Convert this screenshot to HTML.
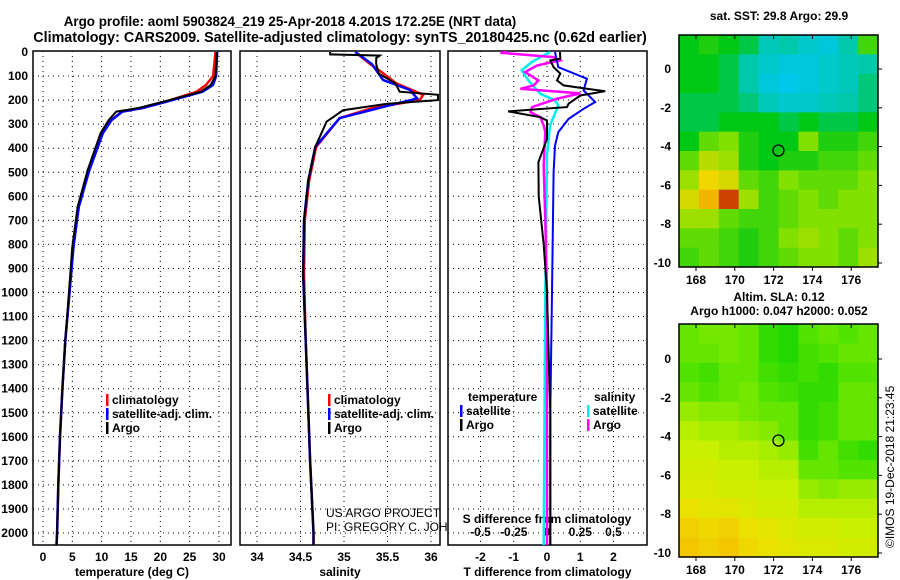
<!DOCTYPE html>
<html><head><meta charset="utf-8"><style>
body{margin:0;background:#fff}
svg{display:block;font-family:"Liberation Sans",sans-serif;font-weight:bold}
</style></head><body>
<svg id="c" width="900" height="580" xmlns="http://www.w3.org/2000/svg">
<text x="290" y="26" font-size="13.4" text-anchor="middle">Argo profile: aoml 5903824_219 25-Apr-2018 4.201S 172.25E (NRT data)</text>
<text x="340" y="42" font-size="14.3" text-anchor="middle">Climatology: CARS2009. Satellite-adjusted climatology: synTS_20180425.nc (0.62d earlier)</text>
<g id="g"></g>
</svg>
<script>
// ---- data ----
const depthT=[0,100,137,165,207,233,248,283,338,492,644,811,1005,1200,1400,1600,1800,2000,2050];
const tempArgo=[29.6,29.4,28.6,26.9,20.4,16.3,12.5,11.2,9.8,7.6,5.9,5.0,4.4,3.8,3.3,2.9,2.6,2.4,2.3];
const tempClim=[29.4,29.0,27.8,26.2,20.8,17.0,13.5,11.6,10.0,7.8,6.0,5.1,4.5,3.8,3.3,2.9,2.6,2.4,2.3];
const tempSat=[29.7,29.5,29.0,27.2,21.0,17.0,13.5,11.7,10.2,7.9,6.1,5.2,4.5,3.8,3.3,2.9,2.6,2.4,2.3];
const depthSA=[0,10,15,25,50,90,130,165,178,200,215,242,290,394,533,700,922,1200,1400,1700,2000,2050];
const salArgo=[34.84,34.84,35.41,35.37,35.37,35.4,35.59,35.64,36.08,36.08,35.5,34.99,34.8,34.67,34.59,34.54,34.53,34.56,34.58,34.61,34.65,34.65];
const depthSC=[0,50,88,130,178,200,233,275,394,533,700,922,1200,1400,1700,2000,2050];
const salClim=[35.13,35.3,35.45,35.6,35.91,35.87,35.33,34.95,34.68,34.6,34.55,34.54,34.56,34.58,34.61,34.65,34.65];
const depthSS=[0,50,117,158,193,215,235,275,394,533,700,922,1200,1400,1700,2000,2050];
const salSat=[35.13,35.32,35.45,35.76,35.84,35.6,35.38,34.95,34.67,34.59,34.54,34.53,34.56,34.58,34.61,34.65,34.65];
const depthDTA=[0,28,35,63,90,118,139,153,163,181,215,229,247,271,285,319,361,458,600,800,1000,1500,2050];
const dTArgo=[0.39,0.4,0.1,0.2,0.4,0.3,0.5,1.2,1.75,1.0,0.65,0.6,-1.17,-0.2,0,0,0,-0.26,-0.25,-0.1,0,0.1,0.1];
const depthDTS=[0,63,111,160,208,236,278,333,389,500,1000,1500,2050];
const dTSat=[0.24,0.34,1.2,1.1,1.45,1.1,0.65,0.34,0.24,0.2,0.15,0.1,0.1];
const depthDSA=[0,3,21,35,56,83,118,139,153,172,194,229,250,271,306,333,472,700,1000,2050];
const dSArgo=[-1.2,-1.4,0.19,0.39,-0.3,-0.66,-0.26,-0.4,-0.8,1.0,0.3,-0.45,-0.5,-0.2,-0.1,-0.05,-0.1,-0.05,0,0];
const depthDSS=[0,42,76,118,174,201,222,306,431,1000,2050];
const dSSat=[0.09,-0.46,-0.76,-0.56,-0.2,0.24,0.34,0.09,0,-0.05,-0.1];
const depthTicks=[0,100,200,300,400,500,600,700,800,900,1000,1100,1200,1300,1400,1500,1600,1700,1800,1900,2000];
const tTicks=[0,5,10,15,20,25,30];
const sTicks=[34,34.5,35,35.5,36];
const dTicks=[-2,-1,0,1,2];
const sdTicks=["-0.5","-0.25","0","0.25","0.5"];
const sst=[
[.35,.4,.35,.3,.15,.2,.1,.05,.2,.45],[.35,.35,.3,.2,.1,.05,.05,.1,.15,.2],[.35,.35,.3,.2,.05,0,.05,.1,.15,.25],
[.3,.3,.3,.25,.15,.1,.1,.15,.2,.25],[.3,.3,.35,.35,.35,.3,.35,.3,.3,.35],[.35,.5,.55,.4,.35,.35,.55,.4,.4,.45],
[.5,.65,.6,.4,.35,.4,.4,.45,.45,.5],[.6,.75,.7,.5,.45,.55,.5,.5,.5,.55],[.7,.8,.95,.6,.45,.5,.55,.5,.55,.55],
[.6,.6,.5,.45,.45,.5,.55,.55,.55,.55],[.5,.5,.45,.4,.45,.55,.6,.55,.5,.55],[.45,.5,.45,.4,.45,.5,.55,.55,.5,.6]];
const sla=[
[.3,.35,.35,.3,.15,.1,.25,.3,.25,.3],[.3,.3,.35,.3,.15,.1,.2,.25,.3,.3],[.25,.2,.3,.3,.2,.15,.2,.15,.25,.25],
[.3,.25,.3,.35,.25,.2,.15,.15,.3,.3],[.45,.4,.4,.35,.3,.3,.15,.2,.3,.3],[.55,.5,.5,.45,.4,.3,.15,.2,.3,.3],
[.6,.6,.55,.55,.5,.45,.2,.3,.2,.15],[.65,.65,.6,.6,.55,.55,.3,.3,.25,.25],[.7,.7,.65,.65,.6,.6,.45,.4,.45,.45],
[.8,.75,.75,.7,.65,.65,.55,.55,.55,.55],[.9,.85,.9,.8,.75,.7,.65,.65,.6,.6],[.95,.9,.95,.85,.8,.75,.7,.7,.65,.65]];
const lonTicks=[168,170,172,174,176];
const latTicks=[0,-2,-4,-6,-8,-10];
const floatLon=172.25, floatLat=-4.2;
// ---- helpers ----
const NS="http://www.w3.org/2000/svg", G=document.getElementById('g');
function el(t,a,p){const e=document.createElementNS(NS,t);for(const k in a)e.setAttribute(k,a[k]);(p||G).appendChild(e);return e;}
const Y=d=>52+d*0.2405, TOP=51, BOT=545;
function panel(x0,x1,xs,ticks,labs,xlabel,name){
  el('rect',{x:x0,y:TOP,width:x1-x0,height:BOT-TOP,fill:'#fff',stroke:'#000','stroke-width':1.5});
  depthTicks.forEach(d=>{if(d>0){const l=el('line',{x1:x0,x2:x1,y1:Y(d),y2:Y(d),stroke:'#000','stroke-dasharray':'1 4','stroke-width':1});}});
  ticks.forEach((v,i)=>{const x=xs(v);const l=el('line',{x1:x,x2:x,y1:TOP,y2:BOT,stroke:'#000','stroke-dasharray':'1 4'});
    const t=el('text',{x:x,y:BOT+16,'font-size':12,'text-anchor':'middle'});t.textContent=labs[i];});
  const t=el('text',{x:(x0+x1)/2,y:BOT+31,'font-size':12,'text-anchor':'middle'});t.textContent=xlabel;
}
function line(xs,vals,deps,color,w,name){
  const pts=vals.map((v,i)=>xs(v).toFixed(1)+','+Y(deps[i]).toFixed(1)).join(' ');
  const p=el('polyline',{points:pts,fill:'none',stroke:color,'stroke-width':w});
  
}
function legend(x,y,items,name){items.forEach((it,i)=>{const yy=y+i*14;
  el('rect',{x:x,y:yy-10,width:2.5,height:12,fill:it[1]});
  const t=el('text',{x:x+6,y:yy,'font-size':12});t.textContent=it[0];});}
depthTicks.forEach(d=>{const t=el('text',{x:28,y:Y(d)+4,'font-size':12,'text-anchor':'end'});t.textContent=d;});
// panel 1
const xT=v=>43+v*(176/30);
panel(33,231,xT,tTicks,tTicks,'temperature (deg C)','temperature-panel');
line(xT,tempClim,depthT,'#f00',2.5,'temp-climatology-line');
line(xT,tempSat,depthT,'#00f',2.5,'temp-satellite-line');
line(xT,tempArgo,depthT,'#000',2,'temp-argo-line');
legend(106,404,[['climatology','#f00'],['satellite-adj. clim.','#00f'],['Argo','#000']],'temp-legend');
// panel 2
const xS=v=>257+(v-34)*87;
panel(240,440,xS,sTicks,sTicks,'salinity','salinity-panel');
line(xS,salClim,depthSC,'#f00',2.5,'sal-climatology-line');
line(xS,salSat,depthSS,'#00f',2.5,'sal-satellite-line');
line(xS,salArgo,depthSA,'#000',2,'sal-argo-line');
legend(328,404,[['climatology','#f00'],['satellite-adj. clim.','#00f'],['Argo','#000']],'sal-legend');
[['US ARGO PROJECT',517],['PI: GREGORY C. JOHNSON',531]].forEach(a=>{const t=el('text',{x:326,y:a[1],'font-size':12,'font-weight':'normal'});t.textContent=a[0];});
// panel 3
const xD=v=>547+v*33.25;
panel(448,647,xD,dTicks,dTicks,'T difference from climatology','difference-panel');
sdTicks.forEach((s,i)=>{const t=el('text',{x:xD(dTicks[i]),y:536,'font-size':12,'text-anchor':'middle'});t.textContent=s;});
{const t=el('text',{x:547,y:523,'font-size':12,'text-anchor':'middle'});t.textContent='S difference from climatology';}
line(xD,dSSat,depthDSS,'#0ee',2.5,'sal-diff-satellite-line');
line(xD,dSArgo,depthDSA,'#f0f',2.5,'sal-diff-argo-line');
line(xD,dTSat,depthDTS,'#00f',2,'temp-diff-satellite-line');
line(xD,dTArgo,depthDTA,'#000',2,'temp-diff-argo-line');
{const t=el('text',{x:468,y:401,'font-size':12});t.textContent='temperature';
 const u=el('text',{x:594,y:401,'font-size':12});u.textContent='salinity';}
legend(460,415,[['satellite','#00f'],['Argo','#000']],'temp-diff-legend');
legend(587,415,[['satellite','#0ee'],['Argo','#f0f']],'sal-diff-legend');
// maps
function lerp(stops,v){for(let i=1;i<stops.length;i++){if(v<=stops[i][0]){const a=stops[i-1],b=stops[i],f=(v-a[0])/(b[0]-a[0]||1);return 'rgb('+[1,2,3].map(k=>Math.round(a[k]+(b[k]-a[k])*f)).join(',')+')';}}const s=stops[stops.length-1];return 'rgb('+s[1]+','+s[2]+','+s[3]+')';}
const sstStops=[[0,0,200,235],[.2,0,200,170],[.35,0,200,20],[.55,130,225,0],[.75,240,215,0],[.88,240,130,0],[1,180,20,0]];
const slaStops=[[0,0,210,0],[.3,100,230,0],[.6,200,240,0],[.8,235,225,0],[1,245,190,0]];
function map(y0,y1,lat0,grid,stops,name){
  const x0=679,x1=878,lx=v=>696+(v-168)*19.4,ly=v=>lat0+(-v)*19.4;
  const rows=grid.length,cols=grid[0].length,cw=(x1-x0)/cols,ch=(y1-y0)/rows;
  grid.forEach((r,i)=>r.forEach((v,j)=>{const c=el('rect',{x:x0+j*cw,y:y0+i*ch,width:cw+0.5,height:ch+0.5,fill:lerp(stops,v)});}));
  el('rect',{x:x0,y:y0,width:x1-x0,height:y1-y0,fill:'none',stroke:'#000','stroke-width':1.5});
  lonTicks.forEach(v=>{el('line',{x1:lx(v),x2:lx(v),y1:y0,y2:y0+4,stroke:'#000'});el('line',{x1:lx(v),x2:lx(v),y1:y1,y2:y1+4,stroke:'#000'});
    const t=el('text',{x:lx(v),y:y1+17,'font-size':12,'text-anchor':'middle'});t.textContent=v;});
  latTicks.forEach(v=>{el('line',{x1:x1,x2:x1+4,y1:ly(v),y2:ly(v),stroke:'#000'});
    const t=el('text',{x:x0-8,y:ly(v)+4,'font-size':12,'text-anchor':'end'});t.textContent=v;});
  const m=el('circle',{cx:lx(floatLon),cy:ly(floatLat),r:5.5,fill:'none',stroke:'#000','stroke-width':1.3});
}
map(35,267,69,sst,sstStops,'sst-map');
map(324,557,359,sla,slaStops,'sla-map');
[['sat. SST: 29.8 Argo: 29.9',779,20],['Altim. SLA: 0.12',779,301],['Argo h1000: 0.047 h2000: 0.052',779,315]].forEach(a=>{const t=el('text',{x:a[1],y:a[2],'font-size':12,'text-anchor':'middle'});t.textContent=a[0];});
{const t=el('text',{x:0,y:0,'font-size':12,'font-weight':'normal',transform:'translate(894,548) rotate(-90)'});t.textContent='©IMOS 19-Dec-2018 21:23:45';}
</script>
</body></html>
